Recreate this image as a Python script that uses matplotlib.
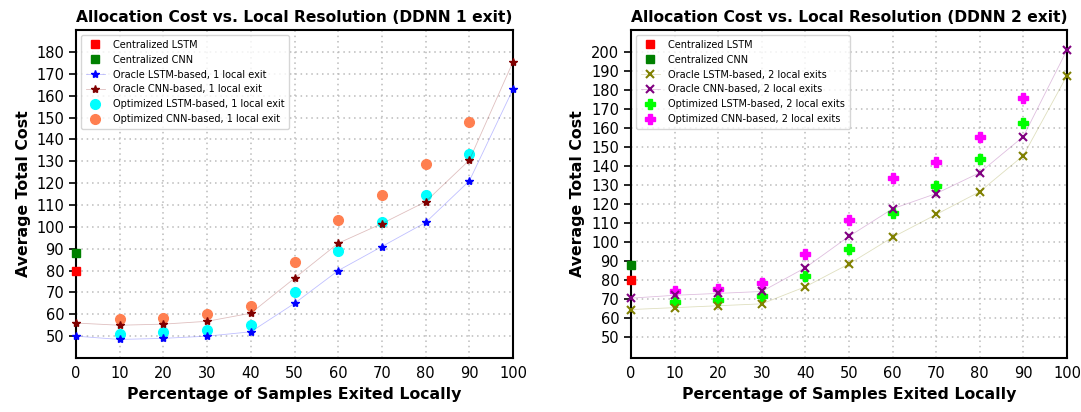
import numpy as np
import matplotlib.pyplot as plt
from matplotlib.colors import to_rgba

# x positions (percentage of samples exited locally)
pct_all = [0, 10, 20, 30, 40, 50, 60, 70, 80, 90, 100]
pct_mid = [10, 20, 30, 40, 50, 60, 70, 80, 90]

# centralized baselines (at 0%)
central_lstm = 80
central_cnn = 88

# DDNN 1 exit
oracle_lstm_1 = [50, 48.5, 49, 50, 52, 65, 80, 91, 102, 121, 163]
oracle_cnn_1 = [56, 55, 55.5, 56.8, 60.5, 76.5, 92.5, 101.5, 111.5, 130.5, 175.5]
opt_lstm_1 = [51.2, 51.7, 53, 55, 70, 88.8, 102, 114.6, 133.5]
opt_cnn_1 = [58, 58.4, 60, 64, 84, 103, 114.6, 128.6, 147.8]

# DDNN 2 exits
oracle_lstm_2 = [64.5, 65.5, 66.5, 67.5, 76.5, 88.5, 102.5, 114.5, 126.5, 145.5, 187.5]
oracle_cnn_2 = [70.5, 72, 73, 74, 86.5, 103, 117.5, 125.5, 136.5, 155.5, 201]
opt_lstm_2 = [68.5, 69.5, 71.5, 82, 96.5, 115.5, 129.5, 143.5, 162.5]
opt_cnn_2 = [74.5, 75.5, 78.5, 93.5, 111.5, 133.5, 142, 155.5, 176]


def oracle(ax, y, marker, color, label, **kw):
    # faint line, solid markers
    ax.plot(pct_all, y, marker + '-', color=to_rgba(color, 0.25), lw=0.6,
            markerfacecolor=color, markeredgecolor=color, ms=6,
            clip_on=False, zorder=4, label=label, **kw)


def style_axes(ax, yticks, ylim, title):
    ax.set_xlim(0, 100)
    ax.set_ylim(*ylim)
    ax.set_xticks(range(0, 101, 10))
    ax.set_yticks(yticks)
    ax.grid(True, linestyle=(0, (1, 2.5)), color='#bbbbbb', linewidth=1.1)
    ax.set_title(title, fontsize=11.2, fontweight='bold')
    ax.set_xlabel('Percentage of Samples Exited Locally', fontsize=11.3, fontweight='bold')
    ax.set_ylabel('Average Total Cost', fontsize=11.3, fontweight='bold')
    ax.tick_params(labelsize=10.5)
    ax.tick_params(axis='x', length=0, pad=6)
    ax.tick_params(axis='y', length=5, width=1.2)
    for s in ax.spines.values():
        s.set_linewidth(1.5)
    ax.legend(loc='upper left', fontsize=7, framealpha=0.8, borderpad=0.5,
              labelspacing=0.5)


fig = plt.figure(figsize=(10.81, 4.12), dpi=100)
ax1 = fig.add_axes([0.0703, 0.131, 0.4043, 0.796])
ax2 = fig.add_axes([0.5837, 0.131, 0.4033, 0.796])

# left panel
ax1.plot(0, central_lstm, 's', color='red', ms=6, clip_on=False, zorder=5, label='Centralized LSTM')
ax1.plot(0, central_cnn, 's', color='green', ms=6, clip_on=False, zorder=5, label='Centralized CNN')
oracle(ax1, oracle_lstm_1, '*', 'blue', 'Oracle LSTM-based, 1 local exit')
oracle(ax1, oracle_cnn_1, '*', 'maroon', 'Oracle CNN-based, 1 local exit')
ax1.plot(pct_mid, opt_lstm_1, 'o', color='cyan', ms=7, zorder=3, label='Optimized LSTM-based, 1 local exit')
ax1.plot(pct_mid, opt_cnn_1, 'o', color='coral', ms=7, zorder=3, label='Optimized CNN-based, 1 local exit')
style_axes(ax1, range(50, 181, 10), (40, 190), 'Allocation Cost vs. Local Resolution (DDNN 1 exit)')

# right panel
ax2.plot(0, central_lstm, 's', color='red', ms=6, clip_on=False, zorder=5, label='Centralized LSTM')
ax2.plot(0, central_cnn, 's', color='green', ms=6, clip_on=False, zorder=5, label='Centralized CNN')
oracle(ax2, oracle_lstm_2, 'x', 'olive', 'Oracle LSTM-based, 2 local exits', mew=1.5)
oracle(ax2, oracle_cnn_2, 'x', 'purple', 'Oracle CNN-based, 2 local exits', mew=1.5)
ax2.plot(pct_mid, opt_lstm_2, 'P', color='lime', ms=7, zorder=3, label='Optimized LSTM-based, 2 local exits')
ax2.plot(pct_mid, opt_cnn_2, 'P', color='magenta', ms=7, zorder=3, label='Optimized CNN-based, 2 local exits')
style_axes(ax2, range(50, 201, 10), (39, 211.5), 'Allocation Cost vs. Local Resolution (DDNN 2 exit)')

fig.savefig('out.png', dpi=100)
